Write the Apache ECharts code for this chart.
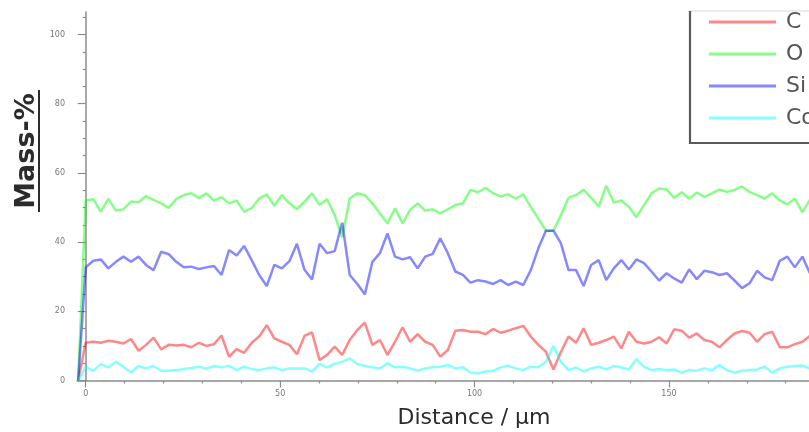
<!DOCTYPE html>
<html><head><meta charset="utf-8">
<script src="https://cdn.jsdelivr.net/npm/echarts@6/dist/echarts.min.js"></script>
<style>html,body{margin:0;padding:0;background:#fff}#c{width:809px;height:432px}</style>
</head><body><div id="c"></div>
<script>
// Distance along the line scan (µm)
const distanceUm = [-1.94,
  0, 1.94, 3.88, 5.82, 7.76, 9.7, 11.64, 13.58, 15.52, 17.46, 19.4, 21.34,
  23.28, 25.22, 27.16, 29.1, 31.04, 32.98, 34.92, 36.86, 38.8, 40.74, 42.68, 44.62,
  46.56, 48.5, 50.44, 52.38, 54.32, 56.26, 58.2, 60.14, 62.08, 64.02, 65.96, 67.9,
  69.84, 71.78, 73.72, 75.66, 77.6, 79.54, 81.48, 83.42, 85.36, 87.3, 89.24, 91.18,
  93.12, 95.06, 97, 98.94, 100.88, 102.82, 104.76, 106.7, 108.64, 110.58, 112.52, 114.46,
  116.4, 118.34, 120.28, 122.22, 124.16, 126.1, 128.04, 129.98, 131.92, 133.86, 135.8, 137.74,
  139.68, 141.62, 143.56, 145.5, 147.44, 149.38, 151.32, 153.26, 155.2, 157.14, 159.08, 161.02,
  162.96, 164.9, 166.84, 168.78, 170.72, 172.66, 174.6, 176.54, 178.48, 180.42, 182.36, 184.3,
  186.24];

// Mass-% per element
const massC = [0,
  10.9, 11.2, 10.9, 11.5, 11.2, 10.7, 12.0, 8.6, 10.3, 12.4, 9.0, 10.3,
  10.1, 10.3, 9.6, 10.9, 10.0, 10.5, 13.0, 6.9, 9.1, 8.0, 10.9, 12.7,
  16.0, 12.2, 11.2, 10.3, 7.6, 12.9, 13.9, 5.9, 7.4, 9.8, 7.4, 11.7,
  14.6, 16.7, 10.3, 11.7, 7.4, 11.2, 15.4, 11.2, 13.4, 11.2, 10.3, 6.9,
  8.8, 14.4, 14.6, 14.1, 14.1, 13.4, 14.9, 13.8, 14.4, 15.1, 15.8, 12.7,
  10.3, 8.3, 3.2, 8.3, 12.7, 10.9, 15.1, 10.3, 10.9, 11.7, 12.7, 9.3,
  14.1, 11.2, 10.7, 11.2, 12.5, 10.7, 14.8, 14.4, 12.4, 13.6, 11.7, 11.2,
  9.6, 11.7, 13.6, 14.3, 13.8, 11.2, 13.4, 14.1, 9.6, 9.6, 10.5, 11.2,
  12.9];

const massO = [0,
  52.0, 52.4, 48.8, 52.5, 49.1, 49.5, 51.7, 51.5, 53.3, 52.2, 51.2, 49.9,
  52.4, 53.6, 54.1, 52.8, 54.1, 52.0, 53.0, 51.2, 52.0, 48.8, 49.8, 52.6,
  53.8, 50.5, 53.6, 51.2, 49.5, 51.7, 54.1, 50.7, 52.4, 47.8, 41.4, 52.6,
  54.1, 53.6, 51.2, 48.3, 45.4, 49.8, 45.4, 49.3, 51.2, 49.1, 49.5, 48.3,
  49.5, 50.7, 51.2, 55.1, 54.4, 55.7, 54.1, 53.2, 53.8, 52.6, 53.8, 50.2,
  46.8, 43.3, 43.3, 47.8, 52.8, 53.6, 55.1, 52.8, 50.2, 56.3, 51.4, 52.0,
  50.2, 47.2, 50.7, 54.1, 55.5, 55.2, 52.8, 54.4, 52.6, 54.3, 53.1, 54.1,
  55.2, 54.5, 55.1, 56.1, 54.5, 53.6, 52.6, 54.1, 52.0, 50.9, 52.6, 48.6,
  52.2];

const massSi = [0,
  32.7, 34.6, 35.0, 32.4, 34.3, 35.8, 34.3, 35.8, 33.4, 31.9, 37.2, 36.5,
  34.3, 32.7, 32.9, 32.2, 32.7, 33.1, 30.5, 37.7, 36.1, 38.9, 34.8, 30.5,
  27.3, 33.4, 32.4, 34.5, 39.5, 32.0, 29.2, 39.5, 36.8, 37.4, 45.6, 30.5,
  27.9, 24.9, 34.3, 36.8, 42.5, 35.8, 35.0, 35.6, 32.4, 35.8, 36.6, 41.1,
  36.8, 31.5, 30.5, 28.3, 29.0, 28.6, 27.9, 29.0, 27.6, 28.6, 27.6, 31.9,
  38.2, 43.3, 43.3, 39.6, 31.9, 31.9, 27.3, 33.4, 34.8, 29.0, 32.4, 34.8,
  32.1, 35.0, 33.9, 31.5, 28.9, 31.0, 29.5, 28.3, 32.1, 29.3, 31.7, 31.3,
  30.5, 31.0, 28.9, 26.7, 28.1, 31.7, 29.8, 29.0, 34.6, 35.8, 32.7, 35.8,
  31.0];

const massCo = [0,
  4.0, 2.8, 4.8, 3.8, 5.4, 4.0, 2.3, 4.2, 3.5, 4.2, 2.8, 2.8,
  3.0, 3.3, 3.6, 4.0, 3.4, 4.2, 3.8, 4.3, 3.0, 4.0, 3.3, 3.0,
  3.5, 3.8, 3.0, 3.5, 3.5, 3.5, 2.6, 4.8, 3.8, 4.8, 5.4, 6.4,
  4.8, 4.2, 3.8, 3.5, 5.0, 3.8, 4.0, 3.5, 2.8, 3.5, 3.8, 4.0,
  4.5, 3.5, 3.8, 2.3, 2.1, 2.6, 2.8, 3.8, 4.3, 3.5, 3.0, 4.0,
  3.8, 5.4, 10.0, 5.4, 3.0, 3.8, 2.6, 3.5, 4.0, 3.2, 4.2, 3.8,
  3.2, 6.2, 4.0, 3.0, 3.3, 3.0, 3.2, 2.3, 3.0, 2.8, 3.5, 3.0,
  4.5, 3.0, 2.3, 2.8, 3.0, 3.2, 4.0, 2.3, 3.5, 4.0, 4.2, 4.3,
  3.5];

const elementNames = ['C', 'O', 'Si', 'Co'];
const xMajorTicks = [0, 50, 100, 150];
const xMinorTicks = [10, 20, 30, 40, 60, 70, 80, 90, 110, 120, 130, 140, 160, 170, 180];
const yMajorTicks = [0, 20, 40, 60, 80, 100];
const yMinorTicks = [5, 10, 15, 25, 30, 35, 45, 50, 55, 65, 70, 75, 85, 90, 95, 105];

const seriesValues = [massC, massO, massSi, massCo];
const seriesColors = ['rgba(255,0,0,0.47)', 'rgba(0,255,0,0.47)', 'rgba(0,0,255,0.47)', 'rgba(0,255,255,0.47)'];

const axisGray = '#8c8c8c';
const X_MIN = -2.24, X_MAX = 186, Y_MIN = 0, Y_MAX = 106.5;

const chart = echarts.init(document.getElementById('c'), null, {renderer: 'canvas'});
chart.setOption({
  animation: false,
  backgroundColor: '#fff',
  textStyle: {fontFamily: 'DejaVu Sans'},
  grid: {left: 77, right: 0, top: 12, bottom: 51.5},
  xAxis: [
    {
      type: 'value', min: X_MIN, max: X_MAX, position: 'bottom',
      axisLine: {show: true, lineStyle: {color: axisGray, width: 1.5}},
      axisTick: {show: true, customValues: xMajorTicks, length: 7, lineStyle: {color: axisGray, width: 1.2}},
      axisLabel: {show: true, customValues: xMajorTicks, fontSize: 8, color: '#777', margin: 9},
      splitLine: {show: false}
    },
    {
      type: 'value', min: X_MIN, max: X_MAX, position: 'bottom',
      axisLine: {show: false},
      axisTick: {show: true, customValues: xMinorTicks, length: 3, lineStyle: {color: axisGray, width: 1.2}},
      axisLabel: {show: false},
      splitLine: {show: false}
    }
  ],
  yAxis: [
    {
      type: 'value', min: Y_MIN, max: Y_MAX, position: 'left',
      axisLine: {show: true, lineStyle: {color: axisGray, width: 1.5}},
      axisTick: {show: true, customValues: yMajorTicks, length: 8, lineStyle: {color: axisGray, width: 1.2}},
      axisLabel: {show: true, customValues: yMajorTicks, fontSize: 8, color: '#777', margin: 12},
      splitLine: {show: false}
    },
    {
      type: 'value', min: Y_MIN, max: Y_MAX, position: 'left',
      axisLine: {show: false},
      axisTick: {show: true, customValues: yMinorTicks, length: 3, lineStyle: {color: axisGray, width: 1.2}},
      axisLabel: {show: false},
      splitLine: {show: false}
    }
  ],
  legend: {
    orient: 'vertical', left: 709, top: 11, padding: 0,
    icon: 'rect',
    itemWidth: 67, itemHeight: 3, itemGap: 10,
    data: elementNames,
    textStyle: {fontSize: 22, color: '#555', lineHeight: 22, padding: [0, 0, 0, 5]}
  },
  series: elementNames.map((name, s) => ({
    name: name,
    type: 'line',
    xAxisIndex: 0, yAxisIndex: 0,
    symbol: 'none',
    color: seriesColors[s],
    lineStyle: {width: 2.5, color: seriesColors[s]},
    data: distanceUm.map((d, i) => [d, seriesValues[s][i]])
  })),
  graphic: [
    {type: 'text', x: 27, y: 151, rotation: Math.PI / 2,
      style: {text: 'Mass-%', font: 'bold 27px "DejaVu Sans"', fill: '#2b2b2b', align: 'center', verticalAlign: 'middle'}},
    {type: 'line', shape: {x1: 39, y1: 90, x2: 39, y2: 212}, style: {stroke: '#2b2b2b', lineWidth: 2}},
    {type: 'text', x: 474, y: 418,
      style: {text: 'Distance / µm', font: '22px "DejaVu Sans"', fill: '#2b2b2b', align: 'center', verticalAlign: 'middle'}},
    {type: 'polyline', shape: {points: [[688, 11], [809, 11]]}, style: {stroke: '#e6e6e6', lineWidth: 1.5, fill: null}},
    {type: 'polyline', shape: {points: [[690, 11], [690, 143], [809, 143]]}, style: {stroke: '#5a5a5a', lineWidth: 2.2, fill: null}}
  ]
});
</script>
</body></html>
